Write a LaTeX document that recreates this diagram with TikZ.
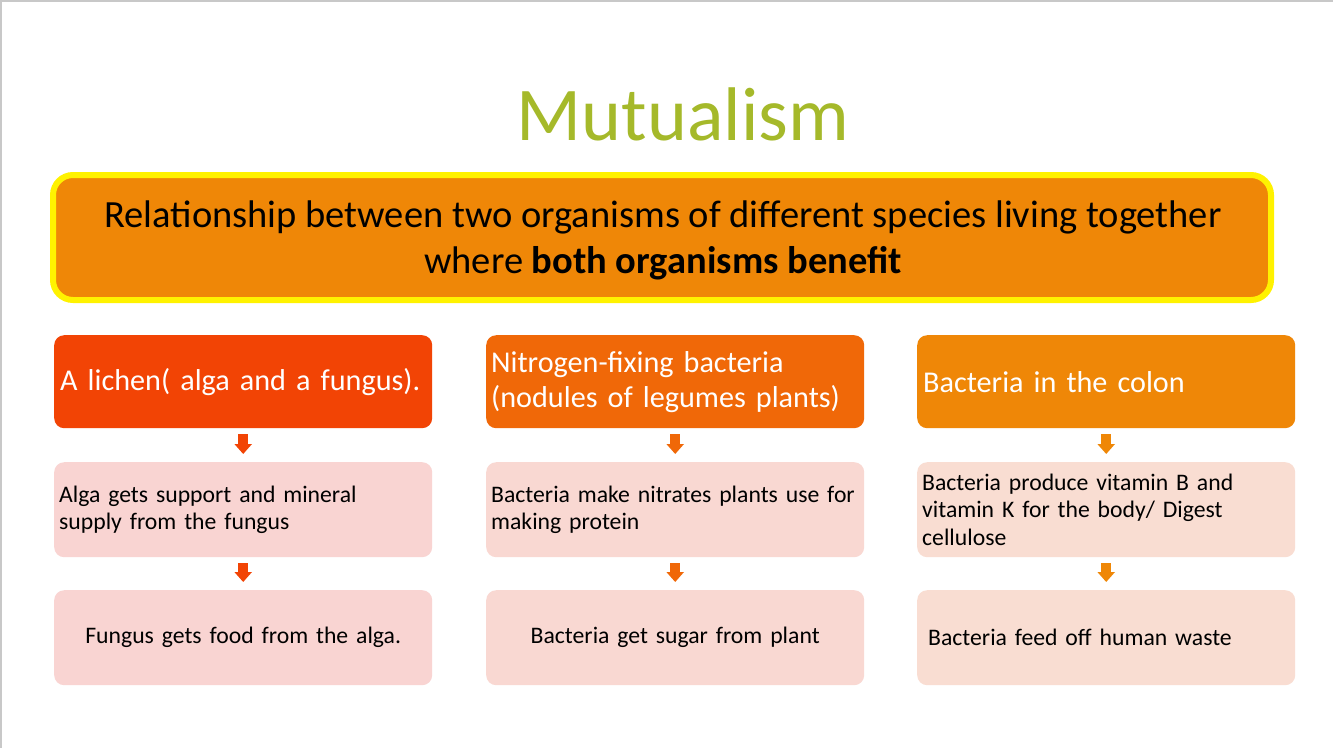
\documentclass[tikz,border=0pt]{standalone}
\usepackage{fontspec}
\setmainfont{Carlito}
\usetikzlibrary{arrows.meta}
\definecolor{titlegreen}{HTML}{A5B92A}
\definecolor{mainorange}{HTML}{EF8707}
\definecolor{hdrA}{HTML}{F24405}
\definecolor{hdrB}{HTML}{F06808}
\definecolor{hdrC}{HTML}{EF8707}
\definecolor{lightA}{HTML}{F9D4D2}
\definecolor{lightB}{HTML}{F9D8D2}
\definecolor{lightC}{HTML}{F9DDD2}
\definecolor{edgegray}{HTML}{C8C8C8}
\begin{document}
\begin{tikzpicture}[x=1pt,y=-1pt,
  hdrbox/.style={rounded corners=10pt, minimum width=378pt, minimum height=93pt,
    text width=366pt, inner xsep=6pt, inner ysep=0pt, align=left, text=white,
    font=\fontsize{30.2}{35}\selectfont, anchor=north west},
  lightbox/.style={rounded corners=10pt, minimum width=378pt, minimum height=95pt,
    text width=368pt, inner xsep=5pt, inner ysep=0pt, align=left, text=black,
    font=\fontsize{23.7}{27.5}\selectfont, anchor=north west},
  flowarrow/.style={line width=10pt, shorten <=6pt, shorten >=8pt,
    -{Triangle[width=17pt,length=10pt]}}
]
\useasboundingbox (0,0) rectangle (1333,748);
\fill[white] (0,0) rectangle (1333,748);
\draw[edgegray, line width=2pt] (0,1) -- (1333,1);
\draw[edgegray, line width=1.5pt] (0.75,0) -- (0.75,748);

\node[text=titlegreen, font=\fontsize{76}{90}\selectfont, anchor=base] (title) at (683,140) {Mutualism};

\draw[yellow, fill=mainorange, line width=6pt, rounded corners=20pt] (53,175) rectangle (1271,300);
\node[align=center, font=\fontsize{38.5}{46}\selectfont, text=black] (def) at (663,240)
  {Relationship between two organisms of different species living together\\where \textbf{both organisms benefit}};

% column 1
\node[hdrbox, fill=hdrA] (h1) at (54,335) {\mbox{A lichen( alga and a fungus).}};
\node[lightbox, fill=lightA] (b1) at (54,462) {Alga gets support and mineral\\supply from the fungus};
\node[lightbox, fill=lightA, align=center] (c1) at (54,590) {Fungus gets food from the alga.};
% column 2
\node[hdrbox, fill=hdrB, inner xsep=5pt, text width=368pt] (h2) at (486,335) {Nitrogen-fixing bacteria\\(nodules of legumes plants)};
\node[lightbox, fill=lightB] (b2) at (486,462) {Bacteria make nitrates plants use for\\making protein};
\node[lightbox, fill=lightB, align=center] (c2) at (486,590) {Bacteria get sugar from plant};
% column 3
\node[hdrbox, fill=hdrC] (h3) at (917,335) {Bacteria in the colon};
\node[lightbox, fill=lightC] (b3) at (917,462) {Bacteria produce vitamin B and\\vitamin K for the body/ Digest\\cellulose};
\node[lightbox, fill=lightC, text width=356pt, inner xsep=11pt] (c3) at (917,590) {Bacteria feed off human waste};

\draw[flowarrow, hdrA] (h1) -- (b1);
\draw[flowarrow, hdrA] (b1) -- (c1);
\draw[flowarrow, hdrB] (h2) -- (b2);
\draw[flowarrow, hdrB] (b2) -- (c2);
\draw[flowarrow, hdrC] (h3) -- (b3);
\draw[flowarrow, hdrC] (b3) -- (c3);
\end{tikzpicture}
\end{document}
